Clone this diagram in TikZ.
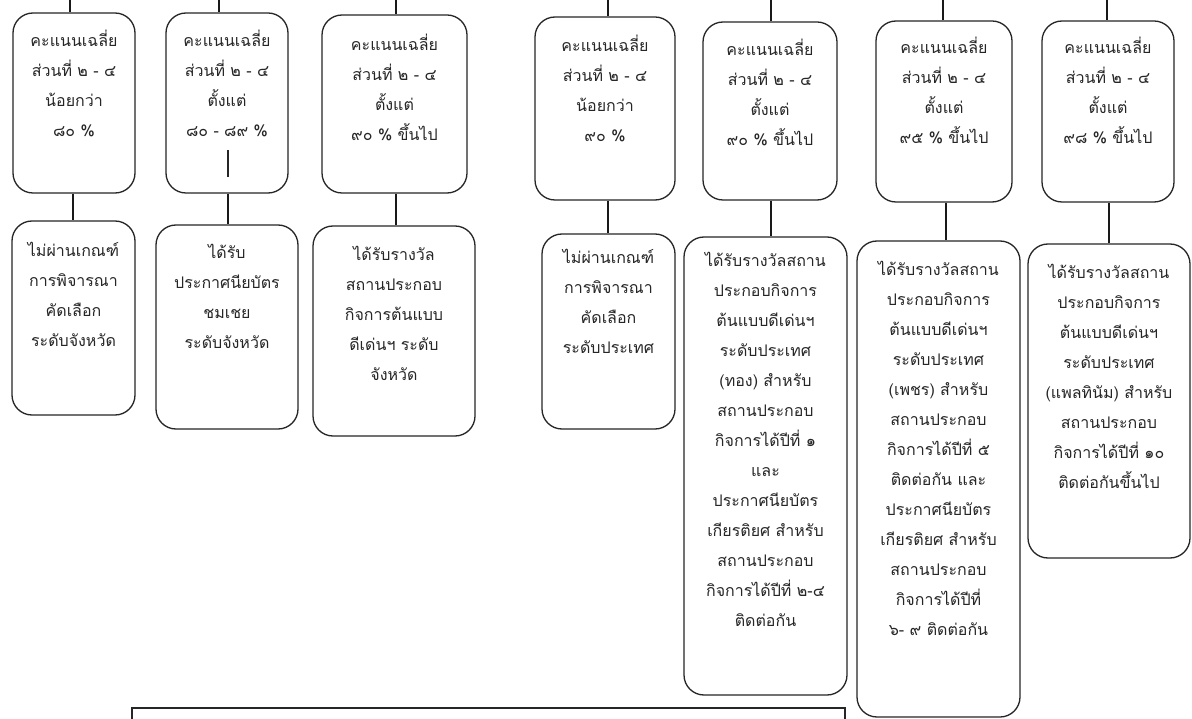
\documentclass[tikz,border=0pt]{standalone}
\usepackage{fontspec}
\newfontfamily\thaifont[Script=Thai]{Loma}
\begin{document}
\begin{tikzpicture}[x=1pt,y=-1pt,
  box/.style={draw=black!85, line width=1.3pt, rounded corners=20pt, inner sep=0},
  lbl/.style={anchor=north, align=center, inner sep=0, text=black!85,
    font=\thaifont\fontsize{16}{30}\selectfont},
  conn/.style={draw=black!90, line width=1.8pt}]
\useasboundingbox (0,0) rectangle (1192,719);
\fill[white] (0,0) rectangle (1192,719);
\newcommand\fl{\rule{0pt}{19pt}}
% top boxes
\node[box, minimum width=122, minimum height=180] (t1) at (74,103) {};
\node[box, minimum width=122, minimum height=180] (t2) at (227,103) {};
\node[box, minimum width=145, minimum height=178] (t3) at (394.5,104) {};
\node[box, minimum width=140, minimum height=183] (t4) at (605,108.5) {};
\node[box, minimum width=134, minimum height=178] (t5) at (770,111) {};
\node[box, minimum width=136, minimum height=181] (t6) at (944,111.5) {};
\node[box, minimum width=132, minimum height=181] (t7) at (1108,111.5) {};
% bottom boxes
\node[box, minimum width=123, minimum height=194] (b1) at (73.5,318) {};
\node[box, minimum width=142, minimum height=204] (b2) at (227,327) {};
\node[box, minimum width=162, minimum height=210] (b3) at (394,331) {};
\node[box, minimum width=133, minimum height=195] (b4) at (608.5,331.5) {};
\node[box, minimum width=163, minimum height=458] (b5) at (765.5,466) {};
\node[box, minimum width=163, minimum height=476] (b6) at (938.5,479) {};
\node[box, minimum width=162, minimum height=314] (b7) at (1109,401) {};
% note box at the bottom
\node[draw=black!85, line width=1.3pt, minimum width=713, minimum height=40, inner sep=0] (note) at (488.5,728) {};
% texts
\node[lbl] (l1) at (74,27.5) {\fl คะแนนเฉลี่ย\\ส่วนที่ ๒ - ๔\\น้อยกว่า\\๘๐ \%};
\node[lbl] (l2) at (227,27.5) {\fl คะแนนเฉลี่ย\\ส่วนที่ ๒ - ๔\\ตั้งแต่\\๘๐ - ๘๙ \%};
\node[lbl] (l3) at (394.5,31.5) {\fl คะแนนเฉลี่ย\\ส่วนที่ ๒ - ๔\\ตั้งแต่\\๙๐ \% ขึ้นไป};
\node[lbl] (l4) at (605,32.5) {\fl คะแนนเฉลี่ย\\ส่วนที่ ๒ - ๔\\น้อยกว่า\\๙๐ \%};
\node[lbl] (l5) at (770,36.5) {\fl คะแนนเฉลี่ย\\ส่วนที่ ๒ - ๔\\ตั้งแต่\\๙๐ \% ขึ้นไป};
\node[lbl] (l6) at (944,34.5) {\fl คะแนนเฉลี่ย\\ส่วนที่ ๒ - ๔\\ตั้งแต่\\๙๕ \% ขึ้นไป};
\node[lbl] (l7) at (1108,34.5) {\fl คะแนนเฉลี่ย\\ส่วนที่ ๒ - ๔\\ตั้งแต่\\๙๘ \% ขึ้นไป};
\node[lbl] (m1) at (73.5,237.5) {\fl ไม่ผ่านเกณฑ์\\การพิจารณา\\คัดเลือก\\ระดับจังหวัด};
\node[lbl] (m2) at (227,239.5) {\fl ได้รับ\\ประกาศนียบัตร\\ชมเชย\\ระดับจังหวัด};
\node[lbl] (m3) at (394,241.5) {\fl ได้รับรางวัล\\สถานประกอบ\\กิจการต้นแบบ\\ดีเด่นฯ ระดับ\\จังหวัด};
\node[lbl] (m4) at (608.5,244.5) {\fl ไม่ผ่านเกณฑ์\\การพิจารณา\\คัดเลือก\\ระดับประเทศ};
\node[lbl] (m5) at (765.5,247.5) {\fl ได้รับรางวัลสถาน\\ประกอบกิจการ\\ต้นแบบดีเด่นฯ\\ระดับประเทศ\\(ทอง) สำหรับ\\สถานประกอบ\\กิจการได้ปีที่ ๑\\และ\\ประกาศนียบัตร\\เกียรติยศ สำหรับ\\สถานประกอบ\\กิจการได้ปีที่ ๒-๔\\ติดต่อกัน};
\node[lbl] (m6) at (938.5,256.5) {\fl ได้รับรางวัลสถาน\\ประกอบกิจการ\\ต้นแบบดีเด่นฯ\\ระดับประเทศ\\(เพชร) สำหรับ\\สถานประกอบ\\กิจการได้ปีที่ ๕\\ติดต่อกัน และ\\ประกาศนียบัตร\\เกียรติยศ สำหรับ\\สถานประกอบ\\กิจการได้ปีที่\\๖- ๙ ติดต่อกัน};
\node[lbl] (m7) at (1109,259.5) {\fl ได้รับรางวัลสถาน\\ประกอบกิจการ\\ต้นแบบดีเด่นฯ\\ระดับประเทศ\\(แพลทินัม) สำหรับ\\สถานประกอบ\\กิจการได้ปีที่ ๑๐\\ติดต่อกันขึ้นไป};
% connector free ends
\coordinate (u1) at (70,-2);
\coordinate (u2) at (219,-2);
\coordinate (u3) at (396,-2);
\coordinate (u4) at (608,-2);
\coordinate (u5) at (771,-2);
\coordinate (u6) at (943,-2);
\coordinate (u7) at (1107,-2);
\coordinate (k1) at (73,0);
\coordinate (k2) at (228,0);
\coordinate (k3) at (396,0);
\coordinate (k4) at (608,0);
\coordinate (k5) at (771,0);
\coordinate (k6) at (946,0);
\coordinate (k7) at (1109,0);
\foreach \i in {1,...,7}{
  \draw[conn] (u\i) -- (u\i |- t\i.north);
  \draw[conn] (t\i.south -| k\i) -- (b\i.north -| k\i);
}
\coordinate (s1) at (228,150);
\coordinate (s2) at (228,177);
\draw[line width=1.3pt, black!85] (s1) -- (s2);
\end{tikzpicture}
\end{document}
